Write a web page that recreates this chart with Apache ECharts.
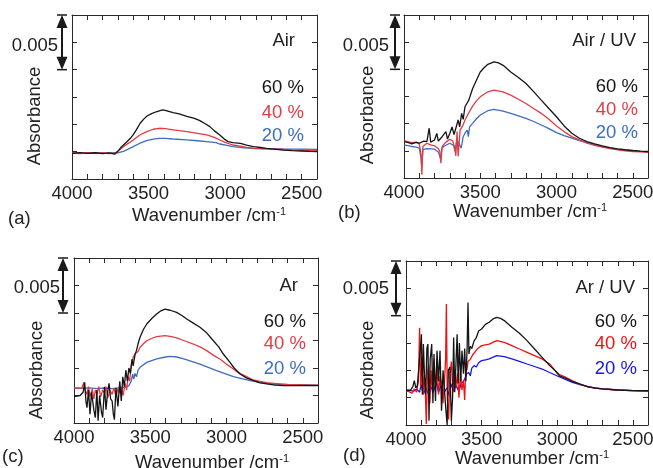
<!DOCTYPE html>
<html>
<head>
<meta charset="utf-8">
<script src="https://cdn.jsdelivr.net/npm/echarts@6/dist/echarts.min.js"></script>
<style>
  html, body { margin: 0; padding: 0; background: #fff; }
  #chart { width: 653px; height: 468px; }
</style>
</head>
<body>
<div id="chart"></div>
<script>
// absorbance values in units of 1e-4 (baseline offset arbitrary), x = wavenumber /cm-1
var airBlack = [[4000,23.5],[3950,24.2],[3900,23.4],[3850,24.0],[3800,23.2],[3760,23.8],[3720,22.8],[3700,25.5],[3680,29],[3650,33],[3620,37],[3600,40.6],[3580,45],[3555,51],[3530,55],[3510,57.6],[3480,59.8],[3450,61.5],[3420,62.8],[3405,63.3],[3380,62.4],[3340,60.7],[3300,59.5],[3250,57.2],[3200,55.5],[3165,53.4],[3130,50.5],[3100,47.9],[3070,44],[3035,40.3],[3000,36],[2980,34.2],[2950,33.2],[2900,32.6],[2860,31],[2815,29.6],[2770,28.8],[2730,28.1],[2680,27.4],[2620,26.5],[2560,26],[2500,25.6],[2450,25.2],[2400,25]];
var airRed = [[4000,23.8],[3950,23.2],[3900,24],[3850,23.4],[3800,24],[3760,23.3],[3720,23.6],[3690,26.5],[3650,31],[3600,35.7],[3560,40],[3512,43.3],[3470,45.5],[3430,46.4],[3390,46],[3340,45],[3300,44.2],[3250,43.3],[3180,41.8],[3120,40.3],[3070,38],[3034,35.7],[3000,33.5],[2950,31.1],[2900,30],[2860,29],[2800,27.8],[2740,27.5],[2650,27.2],[2550,26.4],[2480,26.3],[2400,25.9]];
var airBlue = [[4000,23.6],[3950,24.1],[3900,23.5],[3850,23.9],[3800,23.4],[3750,23.8],[3700,24],[3660,25.5],[3600,29.6],[3560,32.5],[3512,35],[3470,36.5],[3430,37.2],[3390,37.2],[3340,36.6],[3250,35.7],[3180,35],[3120,34.2],[3060,33.2],[3034,32],[2980,30.6],[2947,29.6],[2880,28.6],[2816,28],[2740,27.8],[2620,27.5],[2500,27.3],[2400,27.1]];

var airUvBlack = [[4000,33.5],[3970,32.5],[3950,31.4],[3920,32.8],[3900,32],[3870,34],[3850,33.5],[3835,45.8],[3825,33],[3800,35],[3785,41],[3775,34],[3750,38],[3725,42.7],[3715,36],[3700,41],[3685,47],[3672,40],[3660,45.8],[3645,53.4],[3635,47],[3622,59.5],[3612,54],[3600,65.6],[3575,71.7],[3550,82.4],[3525,90],[3500,97.6],[3475,101.5],[3450,104.6],[3410,106.8],[3380,106],[3350,103.7],[3300,97.6],[3250,92.5],[3200,86.9],[3150,79.5],[3100,71.7],[3050,64],[3000,56.4],[2950,47.9],[2900,41.2],[2850,36.6],[2800,33.5],[2750,31.3],[2700,29.6],[2650,28],[2600,26.8],[2550,26],[2500,25.3],[2450,24.8],[2400,24.4]];
var airUvRed = [[4000,34.5],[3975,33.5],[3950,32.6],[3920,33],[3900,31.4],[3888,22],[3883,3],[3876,29],[3850,32],[3825,30.5],[3800,29.6],[3775,27],[3765,24.4],[3758,13.7],[3750,29],[3725,33],[3700,35.7],[3680,34],[3668,28],[3660,20.4],[3652,42.7],[3645,19.8],[3632,44.2],[3615,48],[3600,53.4],[3575,60],[3550,66.2],[3525,71],[3500,74.7],[3450,79.3],[3410,80.8],[3350,79.3],[3300,76.3],[3250,72.5],[3200,68.6],[3150,64],[3100,59.5],[3050,54],[3000,47.9],[2950,42.7],[2900,38.1],[2850,35],[2800,32],[2750,30],[2700,28.4],[2650,27],[2600,25.9],[2550,25],[2500,24.4],[2450,24],[2400,23.5]];
var airUvBlue = [[4000,30.5],[3950,29],[3920,28.5],[3900,27.5],[3888,18],[3884,10.7],[3876,26],[3850,27],[3800,26.5],[3775,24],[3765,20],[3760,17.4],[3752,27],[3740,29],[3700,32],[3675,30],[3665,24.4],[3655,35],[3640,32],[3625,27.5],[3612,38],[3600,41.2],[3585,44],[3578,38],[3570,47],[3550,50.3],[3525,54.5],[3500,58],[3450,61.9],[3410,63.1],[3350,61.5],[3300,59.5],[3250,57.2],[3200,54.9],[3150,52],[3100,48.8],[3050,45.5],[3000,41.8],[2950,39],[2900,36.6],[2850,34.5],[2800,32.6],[2750,30.7],[2700,29],[2650,27.6],[2600,26.5],[2550,25.7],[2500,25],[2450,24.5],[2400,24.1]];

var arBlack = [[4000,24],[3980,24.5],[3960,25],[3940,28],[3930,37],[3922,20],[3915,14],[3905,30],[3895,8],[3885,28],[3870,12],[3860,5],[3850,30],[3842,2],[3832,25],[3820,10],[3812,5],[3800,33],[3790,12],[3780,28],[3770,36],[3760,22],[3750,20],[3742,8],[3735,3],[3725,32],[3712,15],[3700,38],[3690,20],[3680,42],[3670,33],[3660,48],[3650,38],[3640,50],[3630,45],[3620,58],[3612,52],[3600,62],[3590,66],[3580,72],[3567,77.9],[3545,85],[3523,90],[3490,95],[3458,99],[3430,102],[3403,103.6],[3370,102.5],[3327,100.6],[3290,97.5],[3261,94.5],[3220,91],[3174,87],[3130,82],[3086,74.8],[3050,69],[3021,62.7],[2977,55.1],[2950,50],[2911,44.5],[2870,41],[2824,38.5],[2780,36.5],[2736,35.5],[2680,34.5],[2627,33.9],[2550,34],[2480,34.2],[2400,34]];
var arRed = [[4000,31.8],[3970,32],[3950,31.5],[3935,37],[3928,30],[3915,26],[3905,33],[3895,24],[3880,31],[3870,22],[3860,30],[3850,26],[3838,33],[3825,24],[3812,30],[3800,27],[3790,33],[3778,23],[3765,30],[3750,26],[3738,32],[3725,24],[3712,31],[3700,27],[3690,33],[3678,25],[3665,36],[3655,30],[3645,42],[3635,38],[3625,52],[3611,60],[3600,63],[3580,65],[3567,68.8],[3545,72],[3523,74.8],[3480,77.5],[3458,78.5],[3403,79.4],[3360,78.5],[3327,77.3],[3280,75],[3218,71.8],[3170,69],[3130,65.8],[3080,61],[3043,58.2],[3000,53.5],[2955,49.1],[2920,45.5],[2868,42.1],[2830,39.5],[2780,37.9],[2736,36.6],[2690,36.1],[2600,35],[2500,34.6],[2400,34.5]];
var arBlue = [[4000,31.8],[3950,31.5],[3900,32],[3850,31.2],[3800,31.8],[3750,31.3],[3700,32],[3660,32.5],[3640,34],[3625,38],[3615,44.5],[3608,40],[3600,45],[3590,42],[3580,48],[3567,50.6],[3523,55.1],[3458,58.2],[3400,60],[3370,60.6],[3327,60],[3280,58.2],[3174,53.6],[3065,47.6],[2955,42.1],[2845,38.5],[2736,36.1],[2650,35],[2580,34.8],[2500,34.6],[2400,34.5]];

var arUvBlack = [[4000,31.4],[3985,31.8],[3970,32],[3955,35],[3945,40.6],[3935,34],[3925,36],[3912,58],[3905,70],[3898,83],[3892,28],[3885,74],[3878,46],[3870,28],[3862,70],[3855,74],[3848,4],[3840,60],[3830,74],[3822,20],[3815,65],[3805,22],[3795,68],[3785,40],[3775,68],[3765,13],[3755,50],[3745,50],[3737,15],[3728,0],[3720,50],[3710,53],[3700,4],[3692,25],[3685,80],[3678,30],[3670,55],[3662,83],[3655,38],[3647,75],[3638,40],[3630,68],[3620,47],[3612,70],[3604,40],[3596,70],[3590,112],[3584,65],[3575,72],[3565,70],[3550,77],[3535,80],[3520,86],[3500,87.8],[3475,92],[3450,94],[3425,97],[3400,98.5],[3375,97.5],[3350,95.5],[3300,89.4],[3250,83.9],[3200,77.2],[3150,69.5],[3100,61.9],[3050,54.3],[3000,48],[2985,45],[2975,46],[2950,43],[2900,40],[2850,37.5],[2800,35],[2750,33.8],[2700,33],[2600,32],[2500,31.4],[2400,31.4]];
var arUvRed = [[4000,31],[3980,30.5],[3960,29],[3945,33],[3930,30],[3918,40],[3910,89],[3903,35],[3895,62],[3887,28],[3880,45],[3872,30],[3866,1],[3858,48],[3850,55],[3842,20],[3835,50],[3825,30],[3815,60],[3805,35],[3795,52],[3785,28],[3775,45],[3765,38],[3755,20],[3745,42],[3738,60],[3733,110.7],[3727,25],[3718,5],[3710,45],[3700,58],[3690,30],[3680,50],[3670,35],[3660,47],[3650,25],[3640,48],[3630,32],[3620,40],[3612,23],[3605,52],[3598,50],[3590,58],[3575,60],[3560,64],[3550,65],[3525,70],[3500,72.6],[3450,74],[3400,77.2],[3350,75.5],[3300,72.6],[3250,69.5],[3200,66.5],[3150,63.5],[3100,60.4],[3050,55.8],[3010,49],[3000,47],[2950,44],[2900,40.3],[2850,37.5],[2800,35],[2750,33.8],[2700,33],[2600,32],[2500,31.4],[2400,30.8]];
var arUvBlue = [[4000,32],[3970,31.5],[3950,31],[3930,33],[3910,30],[3900,37],[3885,28],[3870,34],[3850,28],[3835,35],[3820,30],[3800,39],[3785,30],[3770,36],[3750,29],[3730,34],[3715,27],[3700,37.5],[3685,31],[3670,36],[3650,31],[3635,38],[3620,40],[3605,44],[3600,46.7],[3585,48],[3575,45],[3565,52],[3550,54.3],[3535,53],[3520,57],[3500,58.9],[3475,59.5],[3450,60.4],[3400,63.4],[3350,62.5],[3300,60.4],[3250,58.2],[3200,55.8],[3150,53.5],[3100,51.2],[3050,48],[3010,45.5],[3000,44],[2950,42],[2900,39],[2850,36.9],[2800,35],[2750,34],[2700,33],[2600,32],[2500,31.5],[2400,31]];

var panelTitles = ['Air', 'Air / UV', 'Ar', 'Ar / UV'];
var panelLetters = ['(a)', '(b)', '(c)', '(d)'];
var humidityLabels = ['60 %', '40 %', '20 %'];
var xTicks = [4000, 3500, 3000, 2500];

var FONT = '"Liberation Sans", Arial, Helvetica, sans-serif';
var FS = 18.5;
var AXIS = '#2a2a2a';

var panels = [
  { data: [airBlack, airRed, airBlue], colors: ['#151515', '#e23b43', '#3d6dbf'],
    grid: {left: 72, top: 15, width: 245, height: 164},
    arrowX: 62, scaleY: 46, scaleRight: 58, titleRight: 295, titleY: 41,
    pctRight: 304, pctY: [87.5, 113, 135.5], absX: 35, absY: 116, wnX: 209, wnY: 216, letX: 8, letY: 219 },
  { data: [airUvBlack, airUvRed, airUvBlue], colors: ['#151515', '#e23b43', '#3d6dbf'],
    grid: {left: 404, top: 15, width: 244, height: 163},
    arrowX: 395, scaleY: 46, scaleRight: 389, titleRight: 636, titleY: 41,
    pctRight: 638, pctY: [87, 110, 133], absX: 368, absY: 115, wnX: 530, wnY: 212, letX: 338, letY: 212.5 },
  { data: [arBlack, arRed, arBlue], colors: ['#151515', '#e23b43', '#3d6dbf'],
    grid: {left: 74, top: 258, width: 244, height: 165},
    arrowX: 63, scaleY: 288, scaleRight: 60, titleRight: 298, titleY: 286,
    pctRight: 306, pctY: [321.5, 343.5, 369], absX: 36.5, absY: 370, wnX: 212, wnY: 463, letX: 2, letY: 457 },
  { data: [arUvBlack, arUvRed, arUvBlue], colors: ['#151515', '#f01010', '#1515f0'],
    grid: {left: 406, top: 261, width: 242, height: 164},
    arrowX: 396, scaleY: 289, scaleRight: 389, titleRight: 635, titleY: 287.5,
    pctRight: 637, pctY: [321.5, 344, 369], absX: 368, absY: 370, wnX: 532, wnY: 459, letX: 343, letY: 456 }
];

var grids = [], xAxes = [], yAxes = [], series = [], graphics = [];

function txt(x, y, s, align, color, extra) {
  var el = {
    type: 'text', x: x, y: y, silent: true,
    style: { text: s, font: FS + 'px ' + FONT, fill: color || '#222', align: align || 'left', verticalAlign: 'middle' }
  };
  if (extra) for (var k in extra) el[k] = extra[k];
  return el;
}

// double-headed scale arrow (0.005)
function scaleArrow(x, y1, y2) {
  var hw = 5.5, hh = 13;
  return [
    { type: 'line', silent: true, shape: {x1: x, y1: y1 + 4, x2: x, y2: y2 - 4}, style: {stroke: '#1a1a1a', lineWidth: 2} },
    { type: 'line', silent: true, shape: {x1: x - 5, y1: y1, x2: x + 5, y2: y1}, style: {stroke: '#1a1a1a', lineWidth: 1.5} },
    { type: 'line', silent: true, shape: {x1: x - 5, y1: y2, x2: x + 5, y2: y2}, style: {stroke: '#1a1a1a', lineWidth: 1.5} },
    { type: 'polygon', silent: true, shape: {points: [[x, y1], [x - hw, y1 + hh], [x + hw, y1 + hh]]}, style: {fill: '#1a1a1a'} },
    { type: 'polygon', silent: true, shape: {points: [[x, y2], [x - hw, y2 - hh], [x + hw, y2 - hh]]}, style: {fill: '#1a1a1a'} }
  ];
}

panels.forEach(function (p, i) {
  grids.push({ left: p.grid.left, top: p.grid.top, width: p.grid.width, height: p.grid.height,
               containLabel: false, outerBoundsMode: 'none' });

  var xBase = {
    type: 'value', gridIndex: i, min: 2400, max: 4000, interval: 100, inverse: true,
    axisLine: { onZero: false, lineStyle: { color: AXIS, width: 1 } },
    axisTick: { inside: true, length: 5, lineStyle: { color: AXIS } },
    splitLine: { show: false }
  };
  xAxes.push(Object.assign({}, xBase, {
    position: 'bottom',
    axisLabel: {
      margin: 5, fontSize: FS, fontFamily: FONT, color: '#222',
      formatter: function (v) { return xTicks.indexOf(v) >= 0 ? String(v) : ''; }
    }
  }));
  xAxes.push(Object.assign({}, xBase, { position: 'top', axisLabel: { show: false } }));

  var yBase = {
    type: 'value', gridIndex: i, min: 0, max: 150, interval: 25,
    axisLine: { onZero: false, lineStyle: { color: AXIS, width: 1 } },
    axisTick: { inside: true, length: 5, lineStyle: { color: AXIS } },
    axisLabel: { show: false }, splitLine: { show: false }
  };
  yAxes.push(Object.assign({}, yBase, { position: 'left' }));
  yAxes.push(Object.assign({}, yBase, { position: 'right' }));

  // draw blue, red, then black on top
  [2, 1, 0].forEach(function (k) {
    series.push({
      type: 'line', xAxisIndex: 2 * i, yAxisIndex: 2 * i,
      data: p.data[k], showSymbol: false, symbol: 'none',
      lineStyle: { color: p.colors[k], width: 1.3 }, z: 3 - k
    });
  });

  graphics = graphics.concat(scaleArrow(p.arrowX, p.grid.top, p.grid.top + p.grid.height / 3));
  graphics.push(txt(p.scaleRight, p.scaleY, '0.005', 'right'));
  graphics.push(txt(p.titleRight, p.titleY, panelTitles[i], 'right'));
  humidityLabels.forEach(function (s, k) {
    graphics.push(txt(p.pctRight, p.pctY[k], s, 'right', p.colors[k]));
  });
  graphics.push(txt(p.absX, p.absY, 'Absorbance', 'center', '#222', { rotation: Math.PI / 2 }));
  graphics.push(txt(p.letX, p.letY, panelLetters[i], 'left'));
  graphics.push({
    type: 'text', x: p.wnX, y: p.wnY, silent: true,
    style: {
      text: '{m|Wavenumber /cm}{s|-1}', align: 'center', verticalAlign: 'middle',
      rich: {
        m: { fontSize: FS, fontFamily: FONT, fill: '#222', color: '#222' },
        s: { fontSize: 11, fontFamily: FONT, fill: '#222', color: '#222', padding: [0, 0, 9, 0] }
      }
    }
  });
});

var chart = echarts.init(document.getElementById('chart'), null, { renderer: 'canvas' });
chart.setOption({
  animation: false,
  backgroundColor: '#fff',
  grid: grids,
  xAxis: xAxes,
  yAxis: yAxes,
  series: series,
  graphic: graphics
});
</script>
</body>
</html>
